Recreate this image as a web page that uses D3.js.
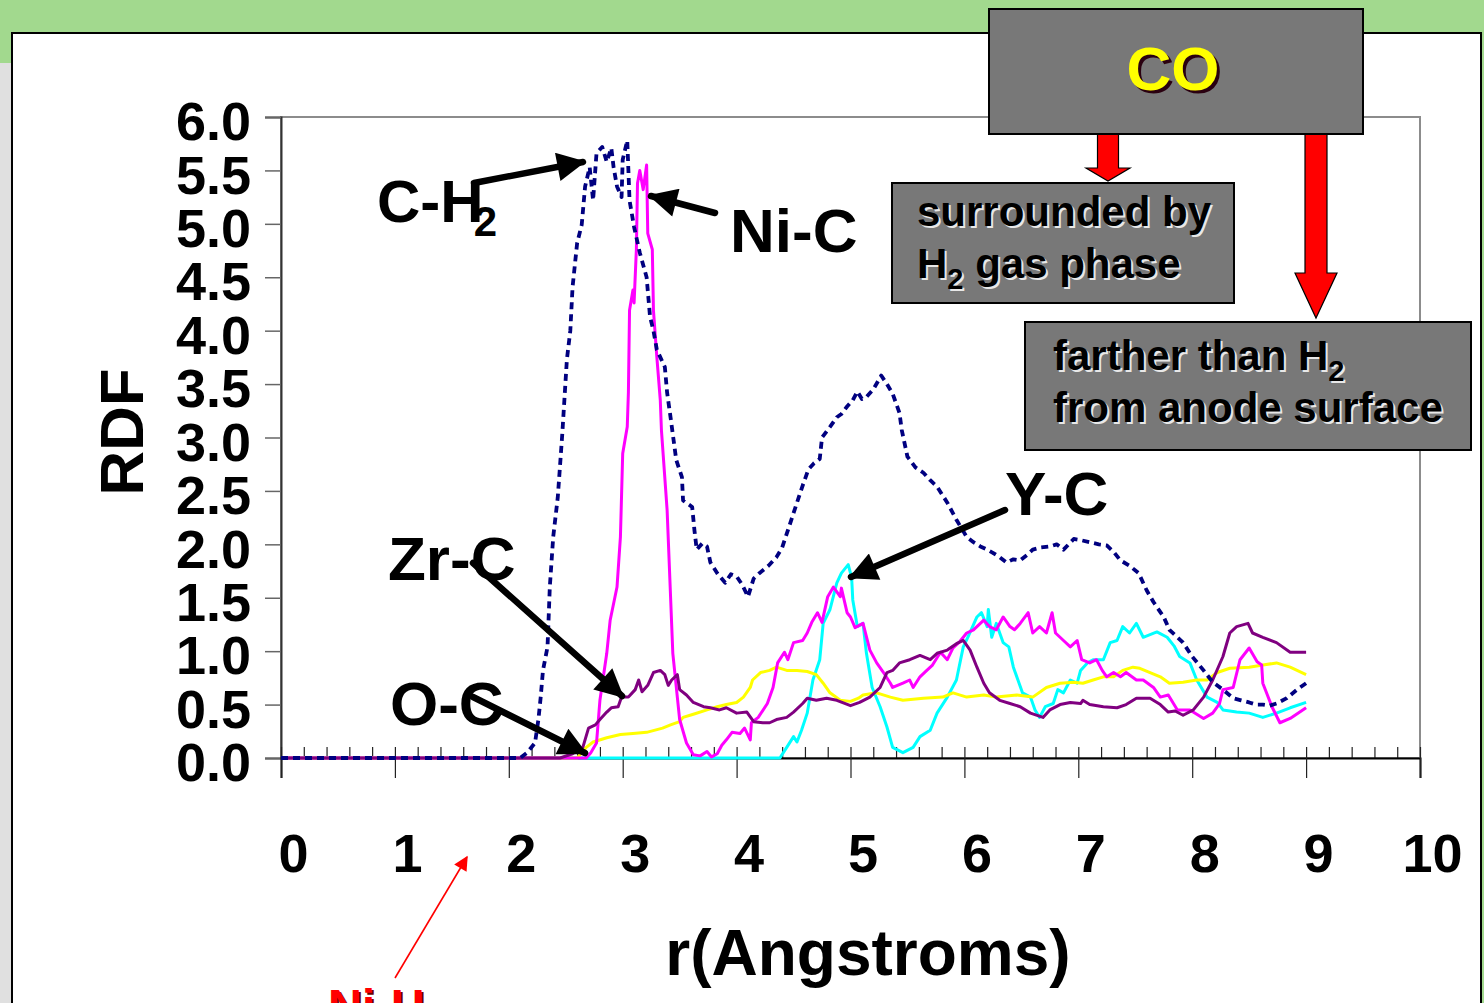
<!DOCTYPE html>
<html>
<head>
<meta charset="utf-8">
<script src="https://cdn.jsdelivr.net/npm/d3@7"></script>
<style>
  body { margin: 0; background: #fff; }
  svg { display: block; font-family: "Liberation Sans", Arial, sans-serif; font-weight: bold; }
</style>
</head>
<body>
<div id="chart"></div>
<script>
// RDF curves, [r (Angstrom), RDF]
const cH2 = [[0,0],[2.10,0],[2.16,0.05],[2.23,0.14],[2.26,0.36],[2.28,0.57],[2.30,0.82],[2.34,1.04],[2.36,1.60],[2.39,2.07],[2.43,2.44],[2.47,3.04],[2.51,3.73],[2.54,4.00],[2.56,4.41],[2.60,4.82],[2.64,4.99],[2.67,5.35],[2.71,5.53],[2.74,5.22],[2.77,5.66],[2.82,5.72],[2.86,5.58],[2.90,5.71],[2.92,5.53],[2.95,5.35],[2.99,5.25],[3.00,5.60],[3.04,5.78],[3.06,5.22],[3.10,4.97],[3.15,4.73],[3.21,4.50],[3.24,4.13],[3.27,4.00],[3.30,3.82],[3.37,3.66],[3.39,3.42],[3.42,3.19],[3.47,2.79],[3.52,2.63],[3.53,2.41],[3.61,2.35],[3.63,2.13],[3.65,1.95],[3.70,2.01],[3.74,1.98],[3.77,1.83],[3.83,1.73],[3.90,1.64],[3.95,1.72],[4.00,1.70],[4.05,1.62],[4.10,1.51],[4.15,1.68],[4.20,1.73],[4.28,1.80],[4.35,1.88],[4.40,1.97],[4.45,2.13],[4.53,2.39],[4.58,2.55],[4.63,2.70],[4.68,2.76],[4.73,2.80],[4.75,3.00],[4.82,3.10],[4.88,3.19],[4.92,3.22],[4.97,3.29],[5.02,3.35],[5.06,3.43],[5.10,3.36],[5.14,3.38],[5.20,3.45],[5.27,3.58],[5.32,3.50],[5.37,3.41],[5.43,3.23],[5.45,3.07],[5.50,2.82],[5.57,2.72],[5.64,2.67],[5.70,2.60],[5.76,2.54],[5.85,2.39],[5.93,2.23],[6.02,2.07],[6.08,2.02],[6.14,1.98],[6.20,1.95],[6.25,1.92],[6.31,1.88],[6.37,1.83],[6.43,1.86],[6.49,1.85],[6.55,1.90],[6.60,1.95],[6.67,1.97],[6.75,1.98],[6.81,2.00],[6.87,1.95],[6.96,2.05],[7.02,2.04],[7.10,2.02],[7.18,2.00],[7.25,1.99],[7.31,1.93],[7.37,1.85],[7.45,1.80],[7.53,1.73],[7.60,1.57],[7.66,1.46],[7.75,1.32],[7.80,1.20],[7.86,1.14],[7.92,1.08],[8.00,0.95],[8.10,0.82],[8.18,0.71],[8.27,0.64],[8.36,0.56],[8.43,0.54],[8.50,0.52],[8.56,0.50],[8.62,0.50],[8.68,0.49],[8.74,0.51],[8.83,0.56],[8.92,0.64],[9.00,0.70]];

const niC = [[0,0],[2.68,0],[2.72,0.05],[2.77,0.14],[2.80,0.54],[2.86,0.98],[2.89,1.29],[2.95,1.60],[2.98,2.07],[3.00,2.85],[3.04,3.10],[3.05,3.42],[3.06,4.19],[3.09,4.38],[3.10,4.26],[3.12,4.76],[3.13,5.38],[3.15,5.50],[3.18,5.32],[3.21,5.55],[3.22,4.91],[3.26,4.76],[3.27,4.19],[3.30,3.75],[3.33,3.35],[3.34,3.07],[3.39,2.32],[3.44,0.98],[3.50,0.36],[3.56,0.14],[3.62,0.03],[3.68,0.02],[3.74,0.06],[3.78,0.01],[3.83,0.04],[3.87,0.12],[3.91,0.17],[3.96,0.24],[4.03,0.23],[4.07,0.28],[4.12,0.17],[4.13,0.33],[4.19,0.38],[4.27,0.51],[4.32,0.66],[4.36,0.89],[4.42,0.99],[4.45,0.92],[4.50,1.08],[4.58,1.10],[4.62,1.17],[4.66,1.27],[4.71,1.36],[4.75,1.27],[4.80,1.51],[4.85,1.60],[4.91,1.51],[4.92,1.59],[4.97,1.36],[5.00,1.32],[5.04,1.22],[5.11,1.26],[5.17,1.01],[5.23,0.89],[5.29,0.80],[5.35,0.70],[5.37,0.66],[5.46,0.70],[5.52,0.73],[5.55,0.66],[5.61,0.76],[5.67,0.82],[5.72,0.87],[5.79,0.99],[5.85,0.92],[5.90,1.03],[5.96,1.09],[6.02,1.17],[6.08,1.20],[6.17,1.29],[6.22,1.23],[6.28,1.20],[6.34,1.32],[6.40,1.23],[6.44,1.20],[6.49,1.26],[6.56,1.36],[6.60,1.17],[6.66,1.23],[6.72,1.17],[6.77,1.36],[6.80,1.17],[6.87,1.10],[6.93,1.04],[6.99,1.10],[7.03,0.92],[7.10,0.89],[7.16,0.92],[7.21,0.82],[7.25,0.76],[7.31,0.80],[7.37,0.76],[7.42,0.80],[7.51,0.73],[7.57,0.73],[7.66,0.66],[7.72,0.57],[7.79,0.59],[7.87,0.45],[7.98,0.45],[8.10,0.37],[8.18,0.42],[8.24,0.51],[8.27,0.64],[8.36,0.66],[8.42,0.92],[8.50,1.03],[8.57,0.90],[8.61,0.87],[8.62,0.70],[8.70,0.48],[8.77,0.33],[8.86,0.37],[9.00,0.47]];

const zrC = [[0,0],[2.45,0],[2.56,0.04],[2.65,0.10],[2.70,0.28],[2.76,0.31],[2.80,0.36],[2.86,0.43],[2.90,0.47],[2.96,0.48],[2.99,0.57],[3.05,0.57],[3.11,0.64],[3.14,0.73],[3.17,0.62],[3.22,0.68],[3.27,0.80],[3.33,0.82],[3.37,0.78],[3.40,0.68],[3.43,0.73],[3.48,0.78],[3.50,0.64],[3.56,0.59],[3.62,0.52],[3.71,0.48],[3.77,0.47],[3.85,0.45],[3.91,0.47],[4.00,0.42],[4.09,0.43],[4.15,0.34],[4.23,0.33],[4.29,0.33],[4.35,0.36],[4.44,0.38],[4.50,0.43],[4.58,0.51],[4.62,0.56],[4.70,0.54],[4.79,0.56],[4.88,0.54],[5.00,0.49],[5.08,0.52],[5.17,0.57],[5.26,0.66],[5.32,0.80],[5.37,0.82],[5.43,0.89],[5.52,0.92],[5.61,0.96],[5.70,0.92],[5.76,0.98],[5.85,1.01],[5.93,1.07],[5.99,1.10],[6.05,1.01],[6.11,0.85],[6.17,0.70],[6.22,0.61],[6.31,0.54],[6.40,0.51],[6.49,0.48],[6.58,0.42],[6.69,0.38],[6.75,0.45],[6.84,0.50],[6.93,0.52],[7.02,0.51],[7.04,0.54],[7.10,0.50],[7.22,0.48],[7.34,0.47],[7.42,0.50],[7.51,0.56],[7.63,0.56],[7.72,0.50],[7.79,0.43],[7.85,0.44],[7.92,0.40],[8.01,0.45],[8.10,0.57],[8.18,0.73],[8.27,0.95],[8.33,1.17],[8.39,1.23],[8.49,1.26],[8.53,1.17],[8.62,1.13],[8.74,1.08],[8.86,0.99],[9.00,0.99]];

const oC = [[0,0],[2.60,0],[2.68,0.10],[2.74,0.15],[2.86,0.19],[2.98,0.22],[3.09,0.23],[3.21,0.24],[3.35,0.28],[3.42,0.31],[3.50,0.34],[3.53,0.38],[3.62,0.41],[3.74,0.45],[3.83,0.48],[3.91,0.50],[4.00,0.52],[4.06,0.57],[4.12,0.66],[4.14,0.73],[4.21,0.80],[4.29,0.82],[4.35,0.85],[4.44,0.82],[4.53,0.82],[4.62,0.81],[4.70,0.78],[4.76,0.70],[4.82,0.61],[4.91,0.54],[5.00,0.53],[5.07,0.56],[5.11,0.59],[5.23,0.61],[5.35,0.57],[5.46,0.54],[5.64,0.56],[5.81,0.57],[5.90,0.61],[6.02,0.57],[6.17,0.59],[6.28,0.57],[6.46,0.59],[6.60,0.57],[6.72,0.66],[6.84,0.70],[6.96,0.71],[7.04,0.70],[7.13,0.73],[7.22,0.76],[7.31,0.76],[7.39,0.82],[7.48,0.85],[7.54,0.84],[7.63,0.80],[7.72,0.76],[7.80,0.70],[7.92,0.71],[8.04,0.73],[8.13,0.73],[8.22,0.80],[8.33,0.84],[8.50,0.85],[8.62,0.87],[8.74,0.89],[8.86,0.85],[9.00,0.78]];

const yC = [[0,0],[4.38,0],[4.44,0.10],[4.50,0.20],[4.53,0.15],[4.57,0.26],[4.62,0.42],[4.67,0.73],[4.73,0.92],[4.76,1.26],[4.82,1.39],[4.88,1.64],[4.92,1.73],[4.98,1.81],[5.01,1.69],[5.02,1.48],[5.06,1.23],[5.11,1.26],[5.14,0.98],[5.19,0.66],[5.26,0.48],[5.32,0.29],[5.37,0.10],[5.46,0.05],[5.55,0.10],[5.61,0.20],[5.70,0.26],[5.76,0.42],[5.85,0.57],[5.93,0.73],[5.99,1.04],[6.03,1.13],[6.11,1.32],[6.15,1.36],[6.20,1.23],[6.21,1.39],[6.24,1.13],[6.28,1.26],[6.34,1.08],[6.39,1.04],[6.43,0.85],[6.47,0.73],[6.51,0.61],[6.58,0.57],[6.62,0.45],[6.66,0.38],[6.71,0.48],[6.78,0.51],[6.82,0.64],[6.87,0.61],[6.93,0.73],[6.99,0.70],[7.02,0.82],[7.08,0.89],[7.13,0.92],[7.22,0.92],[7.28,1.08],[7.34,1.10],[7.39,1.23],[7.45,1.17],[7.51,1.26],[7.57,1.13],[7.69,1.18],[7.78,1.13],[7.84,1.05],[7.89,0.95],[7.98,0.89],[8.04,0.73],[8.13,0.57],[8.22,0.52],[8.27,0.45],[8.39,0.43],[8.50,0.42],[8.62,0.38],[8.74,0.42],[8.86,0.47],[9.00,0.52]];

const xTicks = [0, 1, 2, 3, 4, 5, 6, 7, 8, 9, 10];
const yTicks = [0, 0.5, 1, 1.5, 2, 2.5, 3, 3.5, 4, 4.5, 5, 5.5, 6];

const width = 1484, height = 1003;
const plot = {left: 281, right: 1420, top: 117, bottom: 758};

const svg = d3.select("#chart").append("svg")
    .attr("width", width)
    .attr("height", height);

// slide background
svg.append("rect").attr("width", width).attr("height", height).attr("fill", "#a2d98e");
svg.append("rect").attr("x", 0).attr("y", 63).attr("width", 14).attr("height", height).attr("fill", "#e0e0e0");
svg.append("rect").attr("x", 12).attr("y", 33).attr("width", 1469).attr("height", height)
    .attr("fill", "#fff").attr("stroke", "#000").attr("stroke-width", 2);

const x = d3.scaleLinear().domain([0, 10]).range([plot.left, plot.right]);
const y = d3.scaleLinear().domain([0, 6]).range([plot.bottom, plot.top]);

// plot frame
svg.append("rect")
    .attr("x", plot.left).attr("y", plot.top)
    .attr("width", plot.right - plot.left).attr("height", plot.bottom - plot.top)
    .attr("fill", "none").attr("stroke", "#8c8c8c").attr("stroke-width", 2);

// y axis
const yAxis = svg.append("g")
    .attr("transform", `translate(${plot.left},0)`)
    .call(d3.axisLeft(y).tickValues(yTicks).tickFormat(d3.format(".1f")).tickSize(16).tickPadding(14));
yAxis.select(".domain").attr("stroke", "#333").attr("stroke-width", 2);
yAxis.selectAll(".tick line").attr("stroke", "#666").attr("stroke-width", 1.5);
yAxis.selectAll("text")
    .attr("font-size", 54).attr("font-weight", "bold").attr("fill", "#000")
    .attr("font-family", "Liberation Sans, Arial, sans-serif")
    .attr("dy", "0.42em");

// x axis: minor ticks inside, majors crossing
const minor = d3.range(0, 10.01, 0.2).filter(v => Math.abs(v - Math.round(v)) > 0.01);
svg.append("g")
    .attr("transform", `translate(0,${plot.bottom})`)
    .call(d3.axisBottom(x).tickValues(minor).tickSize(-11).tickFormat(""))
    .call(g => g.select(".domain").remove())
    .selectAll(".tick line").attr("stroke", "#222").attr("stroke-width", 1.2);

const xAxis = svg.append("g")
    .attr("transform", `translate(0,${plot.bottom})`)
    .call(d3.axisBottom(x).tickValues(xTicks).tickSize(20).tickFormat(d3.format("d")));
xAxis.select(".domain").attr("stroke", "#000").attr("stroke-width", 2);
xAxis.selectAll(".tick line").attr("y1", -11).attr("stroke", "#222").attr("stroke-width", 1.2);
xAxis.selectAll("text")
    .attr("font-size", 54).attr("font-weight", "bold").attr("fill", "#000")
    .attr("font-family", "Liberation Sans, Arial, sans-serif")
    .attr("x", 12).attr("y", 114).attr("dy", 0);

// axis titles
svg.append("text")
    .attr("x", 868).attr("y", 975)
    .attr("text-anchor", "middle").attr("font-size", 64)
    .text("r(Angstroms)");
svg.append("text")
    .attr("transform", "translate(143,432) rotate(-90)")
    .attr("text-anchor", "middle").attr("font-size", 62)
    .text("RDF");

// curves
const line = d3.line().x(d => x(d[0])).y(d => y(d[1]));
const series = [
  {data: yC,  color: "#00ffff"},
  {data: oC,  color: "#ffff00"},
  {data: niC, color: "#ff00ff"},
  {data: zrC, color: "#800080"},
  {data: cH2, color: "#000080", dash: "7,5", w: 3.8}
];
svg.selectAll("path.curve")
  .data(series)
  .enter()
  .append("path")
    .attr("class", "curve")
    .attr("d", d => line(d.data))
    .attr("fill", "none")
    .attr("stroke", d => d.color)
    .attr("stroke-width", d => d.w || 3)
    .attr("stroke-dasharray", d => d.dash || null)
    .attr("stroke-linejoin", "round");

// black annotation arrows
const defs = svg.append("defs");
defs.append("marker")
    .attr("id", "blackHead")
    .attr("viewBox", "0 0 10 10")
    .attr("refX", 9).attr("refY", 5)
    .attr("markerWidth", 5).attr("markerHeight", 4.4)
    .attr("markerUnits", "strokeWidth")
    .attr("orient", "auto")
  .append("path").attr("d", "M0,0 L10,5 L0,10 z").attr("fill", "#000");
defs.append("marker")
    .attr("id", "redHead")
    .attr("viewBox", "0 0 10 10")
    .attr("refX", 9).attr("refY", 5)
    .attr("markerWidth", 12).attr("markerHeight", 9)
    .attr("markerUnits", "strokeWidth")
    .attr("orient", "auto")
  .append("path").attr("d", "M0,0 L10,5 L0,10 z").attr("fill", "#ff0000");

const arrows = [
  [474, 183, 583, 162],
  [715, 213, 651, 196],
  [473, 563, 622, 696],
  [473, 697, 585, 753],
  [1005, 510, 851, 577]
];
svg.selectAll("line.arrow")
  .data(arrows)
  .enter()
  .append("line")
    .attr("x1", d => d[0]).attr("y1", d => d[1])
    .attr("x2", d => d[2]).attr("y2", d => d[3])
    .attr("stroke", "#000").attr("stroke-width", 6.5)
    .attr("stroke-linecap", "round")
    .attr("marker-end", "url(#blackHead)");

// curve labels
const labels = [
  {t: "Ni-C", x: 730, y: 252},
  {t: "Zr-C", x: 388, y: 580},
  {t: "O-C",  x: 390, y: 725},
  {t: "Y-C",  x: 1005, y: 515}
];
svg.selectAll("text.lbl")
  .data(labels)
  .enter()
  .append("text")
    .attr("x", d => d.x).attr("y", d => d.y)
    .attr("font-size", 62).attr("fill", "#000")
    .text(d => d.t);
const ch = svg.append("text").attr("x", 377).attr("y", 222).attr("font-size", 60);
ch.append("tspan").text("C-H");
ch.append("tspan").attr("dx", -10).attr("dy", 14).attr("font-size", 42).text("2");

// Ni-H label
svg.append("line")
    .attr("x1", 395).attr("y1", 978).attr("x2", 467).attr("y2", 857)
    .attr("stroke", "#ff0000").attr("stroke-width", 1.6)
    .attr("marker-end", "url(#redHead)");
svg.append("text").attr("x", 330).attr("y", 1024).attr("font-size", 47).attr("fill", "#600").text("Ni-H");
svg.append("text").attr("x", 328).attr("y", 1022).attr("font-size", 47).attr("fill", "#ff0000").text("Ni-H");

// red block arrows from the CO box
const blockArrow = (cx, y0, y1, shaftW, headW, headL) =>
  `M${cx - shaftW / 2},${y0} L${cx + shaftW / 2},${y0} L${cx + shaftW / 2},${y1 - headL} ` +
  `L${cx + headW / 2},${y1 - headL} L${cx},${y1} L${cx - headW / 2},${y1 - headL} ` +
  `L${cx - shaftW / 2},${y1 - headL} Z`;
svg.append("path").attr("d", blockArrow(1108, 133, 181, 21, 44, 13))
    .attr("fill", "#ff0000").attr("stroke", "#000").attr("stroke-width", 1.2);
svg.append("path").attr("d", blockArrow(1316, 133, 318, 22, 42, 45))
    .attr("fill", "#ff0000").attr("stroke", "#000").attr("stroke-width", 1.2);

// gray boxes
const boxes = [
  {x: 989, y: 9, w: 374, h: 125},
  {x: 892, y: 183, w: 342, h: 120},
  {x: 1025, y: 322, w: 446, h: 128}
];
svg.selectAll("rect.box")
  .data(boxes)
  .enter()
  .append("rect")
    .attr("x", d => d.x).attr("y", d => d.y)
    .attr("width", d => d.w).attr("height", d => d.h)
    .attr("fill", "#787878").attr("stroke", "#000").attr("stroke-width", 2);

// CO title, yellow with dark shadow
svg.append("text").attr("x", 1176).attr("y", 93).attr("text-anchor", "middle")
    .attr("font-size", 62).attr("fill", "#2a0010").text("CO");
svg.append("text").attr("x", 1173).attr("y", 90).attr("text-anchor", "middle")
    .attr("font-size", 62).attr("fill", "#ffff00").text("CO");

// embossed box text: white shadow, black text
function boxText(x0, y0, parts) {
  [["#e8e8e8", 2], ["#000", 0]].forEach(([fill, off]) => {
    const t = svg.append("text").attr("x", x0 + off).attr("y", y0 + off)
        .attr("font-size", 42).attr("fill", fill);
    parts.forEach(p => {
      const s = t.append("tspan").text(p.t);
      if (p.sub) s.attr("font-size", 29).attr("dy", 11);
      if (p.after) s.attr("dy", -11);
    });
  });
}
boxText(917, 226, [{t: "surrounded by"}]);
boxText(917, 278, [{t: "H"}, {t: "2", sub: true}, {t: " gas phase", after: true}]);
boxText(1053, 370, [{t: "farther than H"}, {t: "2", sub: true}]);
boxText(1053, 422, [{t: "from anode surface"}]);
</script>
</body>
</html>
